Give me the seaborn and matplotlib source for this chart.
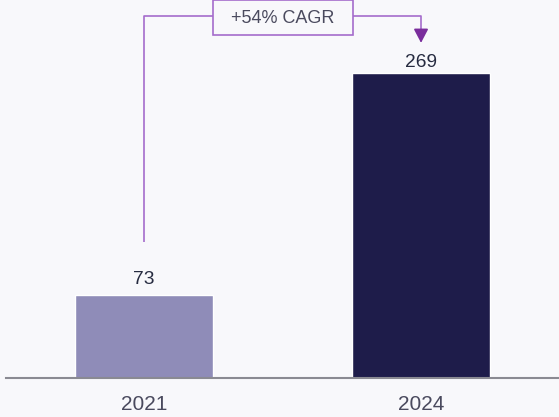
import matplotlib
matplotlib.use("Agg")
import matplotlib.pyplot as plt
import seaborn as sns
import pandas as pd
from matplotlib.patches import Rectangle

years = ["2021", "2024"]
values = [73, 269]
bar_colors = ["#8f8cb8", "#1e1c4a"]
cagr_label = "+54% CAGR"
label_offsets_pt = [8, 4]

bg = "#f8f8fb"
sns.set_theme(style="white")
plt.rcParams['font.family'] = ['Liberation Sans', 'DejaVu Sans']

df = pd.DataFrame({"year": years, "value": values})

fig = plt.figure(figsize=(5.59, 4.17), dpi=100, facecolor=bg)
ax = fig.add_axes([6/559, 39/417, 553/559, 378/417])
ax.set_facecolor(bg)

sns.barplot(data=df, x="year", y="value", hue="year", palette=bar_colors,
            width=0.5, legend=False, ax=ax, saturation=1)

ax.set_xlim(-0.498, 1.498)
ax.set_ylim(0, 333.4)

for i, v in enumerate(values):
    ax.annotate(str(v), xy=(i, v), xytext=(0, label_offsets_pt[i]),
                textcoords="offset points",
                ha="center", va="baseline", fontsize=13.8, color="#262b40")

for s in ["top", "right", "left"]:
    ax.spines[s].set_visible(False)
ax.spines["bottom"].set_color("#8a8a92")
ax.spines["bottom"].set_linewidth(1.5)
ax.set_yticks([])
ax.set_xlabel("")
ax.set_ylabel("")
ax.tick_params(axis="x", length=0, pad=12, labelsize=15, labelcolor="#4a4a5e")

line_c = "#a56ccc"
top_y = 319
ax.plot([0, 0, 1, 1], [120, top_y, top_y, 306], color=line_c, lw=1.2,
        clip_on=False, solid_capstyle="butt", zorder=3)
ax.annotate("", xy=(1, 295.6), xytext=(1, 307),
            arrowprops=dict(arrowstyle="-|>,head_length=0.42,head_width=0.22",
                            color="#7a2d9c", lw=1.2, shrinkA=0, shrinkB=0,
                            mutation_scale=20), zorder=4)
ax.add_patch(Rectangle((0.250, 302.6), 0.504, 30.6, facecolor=bg,
                       edgecolor=line_c, lw=1.2, clip_on=False, zorder=5))
ax.text(0.500, 317.2, cagr_label, ha="center", va="center", fontsize=13,
        color="#4a4a5e", zorder=6)

fig.savefig("out.png", dpi=100, facecolor=bg)
